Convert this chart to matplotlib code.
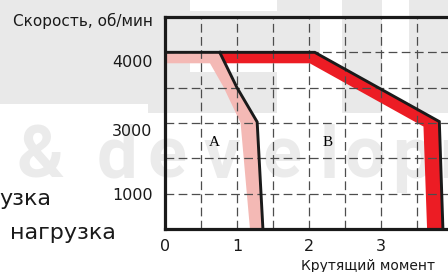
import numpy as np
import matplotlib
matplotlib.use("Agg")
import matplotlib.pyplot as plt
from matplotlib.patches import Rectangle

# кривые в клетках сетки: x - крутящий момент, y - скорость
a_edge_x = [0.76, 1.0, 1.28, 1.36]
a_edge_y = [5.0, 4.0, 3.03, 0.0]
a_inner_x = [0.0, 0.625, 0.81, 1.05, 1.18]
a_inner_y = [4.69, 4.69, 4.03, 3.0, 0.0]
b_edge_x = [0.0, 2.08, 3.81, 3.86]
b_edge_y = [5.0, 5.0, 3.04, 0.0]
b_inner_x = [0.834, 2.01, 3.59, 3.64]
b_inner_y = [4.69, 4.69, 2.9, 0.0]

x_ticks = [0, 1, 2, 3]
x_labels = ["0", "1", "2", "3"]
y_ticks = [4.75, 2.8, 1.0]
y_labels = ["4000", "3000", "1000"]

W, H = 448, 272
red = "#ec1c24"
pink = "#f4b9b5"
grey = "#e9e9e9"

fig = plt.figure(figsize=(W / 100, H / 100), dpi=100)

def px(x, y):
    return x / W, 1 - y / H

def block(x0, y0, x1, y1):
    fig.add_artist(Rectangle(px(x0, y1), (x1 - x0) / W, (y1 - y0) / H,
                             transform=fig.transFigure, color=grey, lw=0, zorder=-5))

# водяной знак на фоне
block(0, 0, 148, 104)
block(148, 0, 190, 113)
block(190, 11, 277, 62)
block(190, 72, 277, 113)
block(277, 0, 320, 55)
block(342, 0, 382, 113)
block(409, 0, 448, 113)
for ch, cx in zip("&developm", [40, 117, 167, 222, 282, 329, 365, 412, 470]):
    fig.text(*px(cx, 178), ch, ha="center", va="baseline", fontsize=52,
             fontweight="bold", family="Roboto", color="#ebebeb", zorder=-4)

ax = fig.add_axes([165 / W, (H - 229) / H, (W - 165) / W, 212 / H])
ax.set_facecolor("none")
ax.set_xlim(0, (W - 165) / 72)
ax.set_ylim(0, 6)

pink_x = [0.0] + a_edge_x + a_inner_x[::-1]
pink_y = [5.0] + a_edge_y + a_inner_y[::-1]
ax.fill(pink_x, pink_y, color=pink, lw=0, zorder=1)
red_x = [a_edge_x[0]] + b_edge_x[1:] + b_inner_x[::-1]
red_y = [5.0] + b_edge_y[1:] + b_inner_y[::-1]
ax.fill(red_x, red_y, color=red, lw=0, zorder=1)

for gx in np.arange(0.5, 3.9, 0.5):
    ax.axvline(gx, color="#4d4d4d", lw=0.9, dashes=(7, 3.5), zorder=2)
for gy in range(1, 6):
    ax.axhline(gy, color="#4d4d4d", lw=0.9, dashes=(7, 3.5), zorder=2)

ax.plot(b_edge_x, b_edge_y, color="#1a1a1a", lw=2.1, solid_joinstyle="miter", zorder=3)
ax.plot(a_edge_x, a_edge_y, color="#1a1a1a", lw=2.1, solid_joinstyle="miter", zorder=3)

ax.text(0.69, 2.46, "A", family="Liberation Serif", fontsize=11, ha="center", va="center")
ax.text(2.26, 2.46, "B", family="Liberation Serif", fontsize=11, ha="center", va="center")

ax.set_xticks(x_ticks, x_labels)
ax.set_yticks(y_ticks, y_labels)
ax.tick_params(length=0, labelsize=11.5, colors="#1a1a1a")
ax.tick_params(axis="x", pad=7)
ax.tick_params(axis="y", pad=9)
ax.spines["right"].set_visible(False)
for s in ["top", "left", "bottom"]:
    ax.spines[s].set_linewidth(2.3)
    ax.spines[s].set_color("#1a1a1a")

fig.text(*px(153, 21), "Скорость, об/мин", ha="right", va="center", fontsize=11, color="#1a1a1a")
fig.text(*px(435, 266), "Крутящий момент", ha="right", va="center", fontsize=10, color="#1a1a1a")
fig.text(*px(-1, 205), "узка", ha="left", va="baseline", fontsize=16, color="#1a1a1a")
fig.text(*px(10, 239), "нагрузка", ha="left", va="baseline", fontsize=16, color="#1a1a1a")

fig.savefig("out.png", dpi=100)
